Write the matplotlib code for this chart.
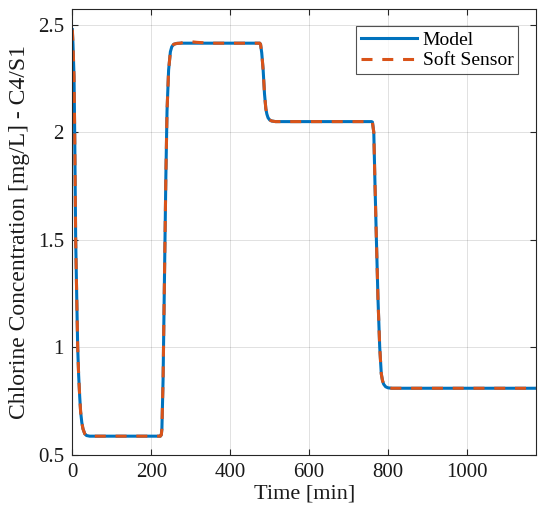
import matplotlib
matplotlib.use("Agg")
import matplotlib.pyplot as plt

# ---- data ----
time_model = [0, 1.7, 4.3, 6, 8.5, 11, 13.6, 16, 18.7, 21, 24, 27, 31.5, 36, 44,
              100, 200, 223, 225.5, 227, 230, 233.5, 237, 240, 244, 248.5, 252, 257, 265, 274,
              350, 450, 475, 477, 480, 483.6, 487, 490.4, 493, 496, 500, 505, 515,
              600, 700, 758, 760.5, 764, 767, 770.6, 774.7, 779, 783, 786, 789, 794, 800, 810,
              900, 1000, 1100, 1175]
conc_model = [2.478, 2.41, 2.26, 2.0, 1.5, 1.25, 1.0, 0.87, 0.77, 0.70, 0.65, 0.62, 0.597, 0.589, 0.586,
              0.586, 0.586, 0.586, 0.592, 0.62, 0.85, 1.32, 1.79, 2.10, 2.29, 2.375, 2.398, 2.41, 2.414, 2.415,
              2.415, 2.415, 2.415, 2.41, 2.37, 2.29, 2.18, 2.11, 2.085, 2.068, 2.058, 2.053, 2.05,
              2.05, 2.05, 2.05, 2.048, 2.0, 1.76, 1.5, 1.22, 1.0, 0.876, 0.845, 0.828, 0.816, 0.811, 0.809,
              0.809, 0.809, 0.809, 0.809]

time_soft = list(time_model)
conc_soft = list(conc_model)
# slight overshoot of the soft sensor at the start of the high plateau
bump_time = [285, 300, 315]
bump_conc = [2.421, 2.422, 2.419]

series_labels = ["Model", "Soft Sensor"]
x_ticks = [0, 200, 400, 600, 800, 1000]
y_ticks = [0.5, 1, 1.5, 2, 2.5]

# merge bump into soft sensor series
pairs = sorted(list(zip(time_soft, conc_soft)) + list(zip(bump_time, bump_conc)))
time_soft = [p[0] for p in pairs]
conc_soft = [p[1] for p in pairs]

plt.rcParams["font.family"] = ["Liberation Serif", "DejaVu Serif"]
plt.rcParams["mathtext.fontset"] = "stix"

fig = plt.figure(figsize=(5.5, 5.25), dpi=100)
ax = fig.add_axes([0.1315, 0.134, 0.843, 0.848])

ax.plot(time_model, conc_model, color="#0072BD", lw=2.2, label=series_labels[0],
        solid_joinstyle="round")
ax.plot(time_soft, conc_soft, color="#D95319", lw=2.2, linestyle=(0, (3.6, 3.2)),
        label=series_labels[1])

ax.set_xlim(0, 1175)
ax.set_ylim(0.5, 2.572)
ax.set_xticks(x_ticks)
ax.set_yticks(y_ticks)
ax.set_xticklabels([str(v) for v in x_ticks])
ax.set_yticklabels(["0.5", "1", "1.5", "2", "2.5"])
ax.tick_params(direction="in", top=True, right=True, length=4, width=0.8,
               labelsize=15, colors="#262626", pad=6)
for lab in ax.get_xticklabels() + ax.get_yticklabels():
    lab.set_color("#1a1a1a")
for s in ax.spines.values():
    s.set_color("#262626")
    s.set_linewidth(0.8)

ax.grid(True, color="#000000", alpha=0.12, lw=0.7)
ax.set_axisbelow(True)

ax.set_xlabel("Time [min]", fontsize=16, color="#1a1a1a", labelpad=2)
ax.set_ylabel("Chlorine Concentration [mg/L] - C4/S1", fontsize=17, color="#1a1a1a", labelpad=6)

leg = ax.legend(loc="upper right", fontsize=14, frameon=True, fancybox=False,
                edgecolor="#262626", borderpad=0.25, handlelength=2.9, handletextpad=0.3,
                labelspacing=0.15, bbox_to_anchor=(0.962, 0.962), borderaxespad=0)
leg.get_frame().set_linewidth(0.8)

fig.savefig("out.png", dpi=100)
